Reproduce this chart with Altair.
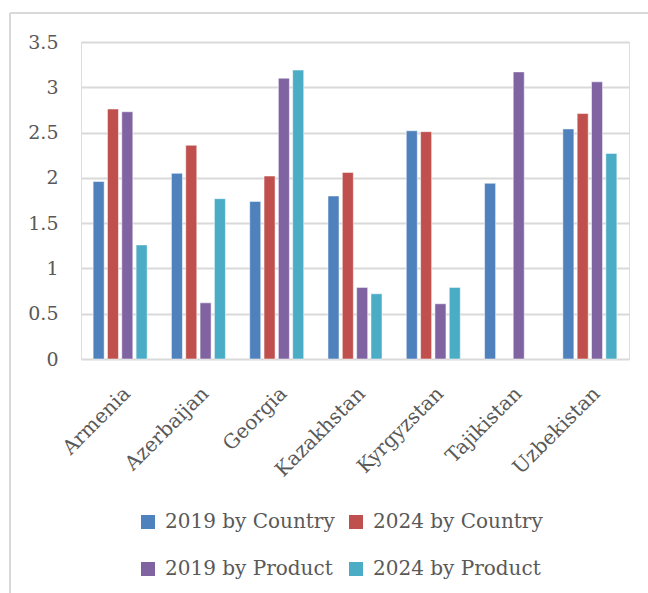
import altair as alt
import pandas as pd

countries = ["Armenia", "Azerbaijan", "Georgia", "Kazakhstan", "Kyrgyzstan", "Tajikistan", "Uzbekistan"]
series = ["2019 by Country", "2024 by Country", "2019 by Product", "2024 by Product"]
colors = ["#4F81BD", "#C0504D", "#8064A2", "#4BACC6"]

v2019_country = [1.96, 2.05, 1.74, 1.80, 2.52, 1.94, 2.54]
v2024_country = [2.76, 2.36, 2.02, 2.06, 2.51, None, 2.71]
v2019_product = [2.73, 0.62, 3.10, 0.79, 0.61, 3.17, 3.06]
v2024_product = [1.26, 1.77, 3.19, 0.72, 0.79, None, 2.27]

y_ticks = [0, 0.5, 1, 1.5, 2, 2.5, 3, 3.5]

rows = []
for s, vals in zip(series, [v2019_country, v2024_country, v2019_product, v2024_product]):
    for c, v in zip(countries, vals):
        rows.append({"country": c, "series": s, "value": v})
df = pd.DataFrame(rows)

FONT = "DejaVu Serif"
TXT = "#595959"

bars = alt.Chart(df).mark_bar(stroke="white", strokeWidth=1, strokeOpacity=0.5).encode(
    x=alt.X("country:N", sort=countries, title=None,
            scale=alt.Scale(paddingInner=0.31, paddingOuter=0.155),
            axis=alt.Axis(labelAngle=-45, labelFontSize=20, labelFont=FONT, labelColor=TXT,
                          labelPadding=24, ticks=False, domain=False, grid=False)),
    xOffset=alt.XOffset("series:N", sort=series,
                        scale=alt.Scale(domain=series, paddingInner=0.23, paddingOuter=0)),
    y=alt.Y("value:Q", title=None,
            scale=alt.Scale(domain=[0, 3.5], nice=False),
            axis=alt.Axis(values=y_ticks, labelFontSize=19, labelFont=FONT, labelColor=TXT,
                          labelPadding=23, ticks=False, domain=False, grid=True,
                          gridColor="#D9D9D9", gridWidth=2, labelExpr="datum.value == 0 ? '0' : format(datum.value, '~g')")),
    color=alt.Color("series:N", sort=series,
                    scale=alt.Scale(domain=series, range=colors),
                    legend=alt.Legend(title=None, orient="none", legendX=57, legendY=470,
                                      columns=2, direction="horizontal", symbolType="square",
                                      symbolSize=196, symbolStrokeWidth=0, labelFont=FONT,
                                      labelFontSize=20, labelColor=TXT, labelOffset=7,
                                      columnPadding=11, rowPadding=27, labelLimit=300)),
)

border_left = alt.Chart(df).mark_rule(color="#D9D9D9", strokeWidth=1.5).encode(
    x=alt.value(-71), y=alt.value(-29), y2=alt.value(551))
border_top = alt.Chart(df).mark_rule(color="#D9D9D9", strokeWidth=1.5).encode(
    x=alt.value(-71), x2=alt.value(567), y=alt.value(-29))

chart = alt.layer(border_left, border_top, bars).properties(
    width=548, height=317,
    autosize=alt.AutoSizeParams(type="none"),
    padding={"left": 81, "top": 42, "right": 19, "bottom": 234},
).configure_view(fill="#F5F5F5", stroke="#D9D9D9", strokeWidth=2).configure(background="white")

chart.save("out.html", embed_options={"renderer": "svg", "actions": False})
